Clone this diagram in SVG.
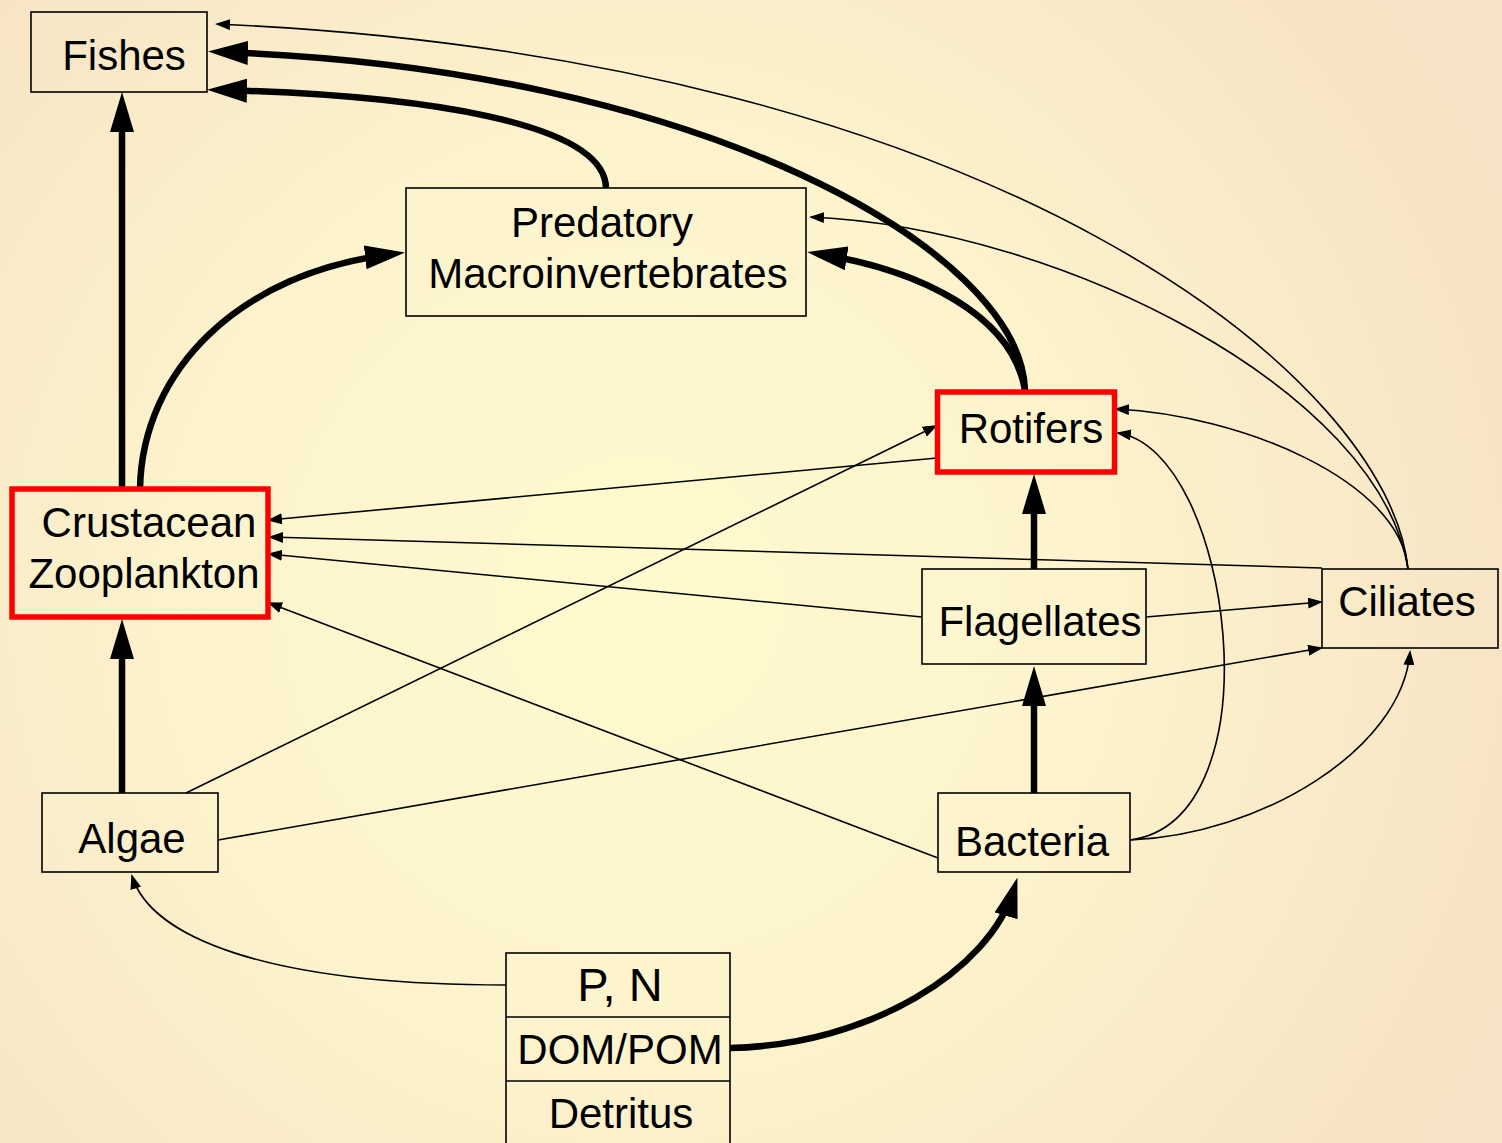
<svg xmlns="http://www.w3.org/2000/svg" width="1502" height="1143" viewBox="0 0 1502 1143">
<style>
.box{fill:none;stroke:#000;stroke-width:1.6}
.hl{fill:none;stroke:#f00;stroke-width:5.5}
.lbl{font-family:"Liberation Sans",Arial,sans-serif;font-size:42px;fill:#000;text-anchor:middle}
.thick{fill:none;stroke:#000;stroke-width:6.5}
.thin{fill:none;stroke:#000;stroke-width:1.6}
.tk{marker-end:url(#ah)}
.tn{marker-end:url(#at)}
</style>
<defs>
<radialGradient id="bg" cx="640" cy="600" r="950" gradientUnits="userSpaceOnUse">
<stop offset="0" stop-color="#FFFACE"/>
<stop offset="0.45" stop-color="#FDF4CD"/>
<stop offset="1" stop-color="#F6E2C4"/>
</radialGradient>
<marker id="ah" markerUnits="userSpaceOnUse" markerWidth="40" markerHeight="24" refX="28" refY="12" orient="auto" viewBox="0 0 40 24">
<path d="M0,0 L40,12 L0,24 Z" fill="#000"/>
</marker>
<marker id="at" markerUnits="userSpaceOnUse" markerWidth="15" markerHeight="11" refX="13" refY="5.5" orient="auto" viewBox="0 0 15 11">
<path d="M0,0 L15,5.5 L0,11 Z" fill="#000"/>
</marker>
</defs>
<rect x="0" y="0" width="1502" height="1143" fill="url(#bg)"/>

<g id="connectors">
<!-- thick -->
<path class="thick tk" d="M122,793 L122,631"/>
<path class="thick tk" d="M122,489 L122,104"/>
<path class="thick tk" d="M140,489 C 142,370 240,272 393,254"/>
<path class="thick tk" d="M606,188 C 605,122 420,95 219,90"/>
<path class="thick tk" d="M1025,390 C 1020,250 700,68 220,52"/>
<path class="thick tk" d="M1025,390 C 1012,315 920,270 819,254"/>
<path class="thick tk" d="M1034,569 L1034,486"/>
<path class="thick tk" d="M1034,793 L1034,678"/>
<path class="thick tk" d="M730,1048 C 870,1045 990,970 1014,889"/>
<!-- thin -->
<path class="thin tn" d="M1408,569 C 1390,380 1000,58 217,24"/>
<path class="thin tn" d="M1408,569 C 1380,390 1060,228 811,217"/>
<path class="thin tn" d="M1408,569 C 1400,480 1240,415 1116,409"/>
<path class="thin tn" d="M1322,568 L270,537"/>
<path class="thin tn" d="M937,458 L269,520"/>
<path class="thin tn" d="M922,617 L269,554"/>
<path class="thin tn" d="M1146,617 L1321,602"/>
<path class="thin tn" d="M938,858 L269,603"/>
<path class="thin tn" d="M186,793 L936,426"/>
<path class="thin tn" d="M218,840 L1321,648"/>
<path class="thin tn" d="M1130,840 C 1280,820 1232,450 1118,433"/>
<path class="thin tn" d="M1130,840 C 1260,835 1402,750 1410,652"/>
<path class="thin tn" d="M506,985 C 260,985 150,935 132,876"/>
</g>

<g id="fishes">
<rect class="box" x="31" y="12" width="176" height="80"/>
<text class="lbl" x="124" y="70">Fishes</text>
</g>
<g id="predatory">
<rect class="box" x="406" y="188" width="400" height="128"/>
<text class="lbl" x="602" y="237">Predatory</text>
<text class="lbl" x="608" y="288">Macroinvertebrates</text>
</g>
<g id="rotifers">
<rect class="hl" x="937.5" y="392" width="177" height="80"/>
<text class="lbl" x="1031" y="443">Rotifers</text>
</g>
<g id="crustacean">
<rect class="hl" x="12" y="489" width="256" height="128"/>
<text class="lbl" x="149" y="537">Crustacean</text>
<text class="lbl" x="144" y="588">Zooplankton</text>
</g>
<g id="flagellates">
<rect class="box" x="922" y="569" width="224" height="95"/>
<text class="lbl" x="1040" y="636">Flagellates</text>
</g>
<g id="ciliates">
<rect class="box" x="1322" y="569" width="176" height="79"/>
<text class="lbl" x="1407" y="616">Ciliates</text>
</g>
<g id="algae">
<rect class="box" x="42" y="793" width="176" height="79"/>
<text class="lbl" x="132" y="853">Algae</text>
</g>
<g id="bacteria">
<rect class="box" x="938" y="793" width="192" height="79"/>
<text class="lbl" x="1032" y="856">Bacteria</text>
</g>
<g id="nutrients">
<rect class="box" x="506" y="953" width="224" height="200"/>
<line class="box" x1="506" y1="1017" x2="730" y2="1017"/>
<line class="box" x1="506" y1="1081" x2="730" y2="1081"/>
<text class="lbl" x="620" y="1001" style="font-size:47px">P, N</text>
<text class="lbl" x="620" y="1064">DOM/POM</text>
<text class="lbl" x="621" y="1128">Detritus</text>
</g>
</svg>
